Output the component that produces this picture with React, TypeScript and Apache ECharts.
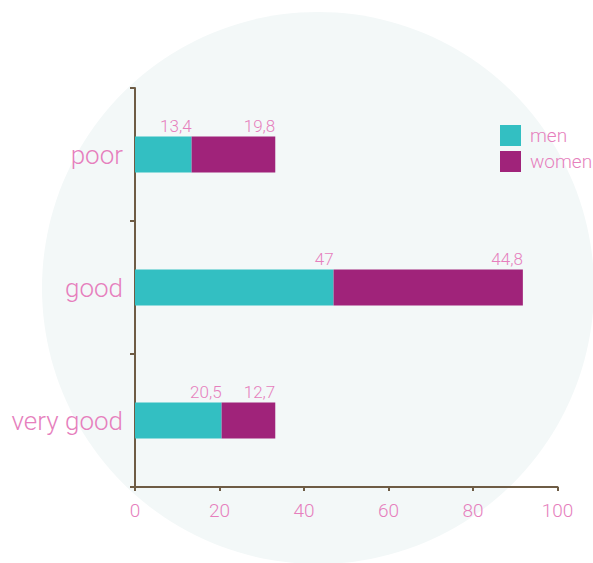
import React, { useEffect, useRef } from "react";
import * as echarts from "echarts";

const categories = ["poor", "good", "very good"];
const menValues = [13.4, 47, 20.5];
const womenValues = [19.8, 44.8, 12.7];
const xTicks = [0, 20, 40, 60, 80, 100];

const PINK = "#e67fbd";
const AXIS = "#6e5c45";
const FONT = "Roboto";

export default function App() {
  const ref = useRef<HTMLDivElement>(null);
  useEffect(() => {
    if (!ref.current) return;
    const chart = echarts.init(ref.current, null, { renderer: "svg" });
    const fmt = (p: any) => String(p.value).replace(".", ",");
    const lbl = {
      show: true,
      position: ["100%", -2],
      align: "right",
      verticalAlign: "bottom",
      color: PINK,
      fontSize: 17,
      fontFamily: FONT,
      fontWeight: 300,
      formatter: fmt,
    };
    chart.setOption({
      animation: false,
      graphic: [
        {
          type: "circle",
          z: -10,
          silent: true,
          shape: { cx: 318, cy: 288, r: 276 },
          style: { fill: "#f3f8f8" },
        },
      ],
      legend: {
        orient: "vertical",
        left: 495,
        top: 120,
        itemWidth: 21,
        itemHeight: 21,
        itemGap: 5,
        icon: "rect",
        textStyle: { color: PINK, fontSize: 19, fontFamily: FONT, fontWeight: 300, padding: [0, 0, 0, 4] },
        data: ["men", "women"],
      },
      grid: { left: 135, right: 35.5, top: 88, bottom: 76, containLabel: false },
      xAxis: {
        type: "value",
        min: xTicks[0],
        max: xTicks[xTicks.length - 1],
        interval: 20,
        splitLine: { show: false },
        axisLine: { show: true, lineStyle: { color: AXIS, width: 2 } },
        axisTick: { show: true, length: 4, lineStyle: { color: AXIS, width: 2 } },
        axisLabel: { color: PINK, fontSize: 19, fontFamily: FONT, fontWeight: 300, margin: 14 },
      },
      yAxis: {
        type: "category",
        inverse: true,
        data: categories,
        axisLine: { show: true, lineStyle: { color: AXIS, width: 2 } },
        axisTick: { show: true, length: 5, lineStyle: { color: AXIS, width: 2 } },
        axisLabel: { color: PINK, fontSize: 26, fontFamily: FONT, fontWeight: 300, margin: 12 },
      },
      series: [
        {
          name: "men",
          type: "bar",
          stack: "total",
          barWidth: 36,
          data: menValues,
          itemStyle: { color: "#33bfc2" },
          label: lbl,
        },
        {
          name: "women",
          type: "bar",
          stack: "total",
          barWidth: 36,
          data: womenValues,
          itemStyle: { color: "#a0237a" },
          label: lbl,
        },
      ],
    });
    return () => chart.dispose();
  }, []);
  return <div ref={ref} style={{ width: 593, height: 563, position: "absolute", left: 0, top: 0 }} />;
}
